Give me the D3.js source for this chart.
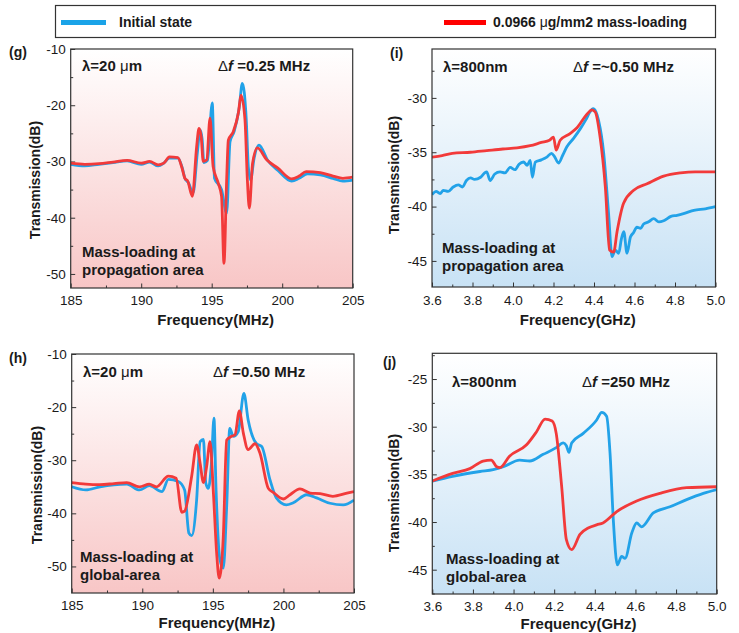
<!DOCTYPE html>
<html>
<head>
<meta charset="utf-8">
<script src="https://cdn.jsdelivr.net/npm/d3@7"></script>
<style>
body { margin: 0; background: #fff; }
svg text { font-family: "Liberation Sans", Arial, sans-serif; fill: #1a1a1a; }
</style>
</head>
<body>
<div id="chart"></div>
<script>
// ---- data ----
// (g) lambda = 20 um, mass-loading at propagation area
const gFreqInit = [185,186,187,188,189,190,190.6,191.2,191.6,192,192.6,192.9,193.1,193.35,193.68,193.98,194.18,194.32,194.45,194.7,195.04,195.2,195.7,196.06,196.3,196.6,196.95,197.17,197.45,197.6,197.76,198,198.35,199,199.7,200.67,201.2,201.8,202.7,203.6,204.3,205];
const gInit     = [-30.5,-30.8,-30.5,-30.2,-29.9,-30.5,-30.1,-30.8,-30.3,-29.4,-29.4,-31,-33,-33.8,-35.6,-28.5,-24.4,-26,-30.2,-29.8,-19.6,-33,-35,-39.2,-26.5,-24.6,-20.5,-16.1,-22.5,-31,-33.3,-29.5,-27.1,-29.9,-31.6,-33.5,-33,-32.2,-32.4,-33,-33.5,-33.3];
const gFreqLoad = [185,186,187,188,189,190,190.6,191.2,191.6,192,192.6,192.9,193.1,193.3,193.63,193.93,194.1,194.25,194.4,194.65,194.88,195.1,195.47,195.7,195.87,196.06,196.18,196.53,196.89,197.08,197.36,197.53,197.67,197.9,198.24,198.9,199.7,200.67,201.2,201.7,202.7,203.6,204.3,205];
const gLoad     = [-30.3,-30.5,-30.4,-30.1,-29.8,-30.3,-30,-30.6,-30.3,-29.2,-29.3,-31.2,-33,-33.5,-36.2,-27.4,-24.1,-25.5,-30,-29.7,-22.3,-30.9,-33.9,-36.2,-48.1,-33.3,-26.2,-24.7,-21.4,-18.2,-22.6,-33.3,-38.3,-30.3,-27.6,-29.7,-31.2,-33.1,-32.6,-31.8,-32,-32.6,-33,-32.8];

// (h) lambda = 20 um, mass-loading at global area
const hFreqInit = [185,186,187,188.9,189.8,190.5,191.4,191.85,192.55,193,193.3,193.5,193.85,194.1,194.33,194.5,194.68,194.9,195.08,195.22,195.5,195.74,195.98,196.2,196.45,196.8,197.2,197.5,198.1,198.46,199.05,199.5,200.2,200.7,201.65,202.35,203.3,204.24,205];
const hInit     = [-35,-35.6,-35,-34.5,-35.6,-34.8,-35.9,-33.6,-34,-35.6,-43.7,-44.2,-37.5,-26.5,-26.1,-34.3,-35.3,-30.6,-22.1,-35,-48.7,-50.3,-38.7,-24,-25.5,-24.6,-17.4,-22.4,-26.9,-27.4,-33.7,-37.1,-38.4,-38,-36.5,-37.1,-38.1,-38.4,-37.5];
const hFreqLoad = [185,186,187,188,188.9,189.8,190.5,191,191.85,192.4,192.8,193,193.5,193.85,194.1,194.33,194.56,194.8,195.04,195.27,195.45,195.74,195.98,196.33,196.57,196.88,197.16,197.5,197.99,198.34,198.93,199.3,200,200.47,201.17,201.9,202.6,203.5,204.5,205];
const hLoad     = [-34.2,-34.5,-34.6,-34.4,-34.2,-35,-34.5,-35,-33,-33.4,-39.8,-39.6,-33,-27.1,-30.6,-34.2,-31.2,-26.5,-36.2,-47.5,-52.2,-44.4,-26.2,-25.5,-25.2,-20.7,-24.9,-28,-26.9,-28.7,-35.3,-36.1,-37.3,-36.5,-35.4,-36.2,-36.3,-36.8,-36.2,-35.9];

// (i) lambda = 800 nm, mass-loading at propagation area
const iFreqInit = [3.6,3.62,3.64,3.656,3.68,3.705,3.73,3.75,3.77,3.79,3.81,3.84,3.86,3.87,3.887,3.91,3.936,3.96,3.986,4.01,4.03,4.052,4.07,4.085,4.096,4.11,4.14,4.167,4.19,4.205,4.225,4.245,4.266,4.3,4.332,4.36,4.38,4.395,4.41,4.423,4.448,4.472,4.489,4.505,4.522,4.535,4.547,4.563,4.58,4.595,4.612,4.63,4.645,4.67,4.695,4.72,4.744,4.78,4.81,4.85,4.893,4.95,5.0];
const iInit     = [-38.9,-38.6,-38.8,-38.5,-38.6,-38.2,-38,-38.2,-37.6,-37.35,-37.5,-37.3,-36.9,-36.8,-37.6,-37,-36.8,-36.9,-36.4,-36.6,-36.1,-35.9,-36.2,-35.75,-37.3,-35.9,-35.7,-35.45,-35.1,-35.4,-36,-35.3,-34.5,-33.7,-32.85,-32,-31.3,-31,-31.3,-32.1,-35.1,-40.65,-44.6,-44,-44.3,-43,-42.3,-44.3,-42.8,-42.4,-41.9,-42,-41.6,-41.4,-41.1,-41.4,-41.3,-40.9,-40.8,-40.6,-40.35,-40.2,-40];
const iFreqLoad = [3.6,3.65,3.7,3.79,3.87,3.95,4.02,4.085,4.14,4.18,4.2,4.213,4.233,4.28,4.316,4.365,4.39,4.406,4.43,4.456,4.477,4.497,4.514,4.546,4.596,4.662,4.744,4.827,4.9,5.0];
const iLoad     = [-35.45,-35.3,-35.1,-35,-34.85,-34.7,-34.6,-34.4,-34.1,-33.9,-33.6,-34.8,-33.9,-33.3,-32.75,-31.5,-31.1,-31.3,-33.6,-38.2,-44,-44.2,-42.3,-39.7,-38.5,-37.9,-37.2,-36.9,-36.8,-36.8];

// (j) lambda = 800 nm, mass-loading at global area
const jFreqInit = [3.6,3.7,3.835,3.9,3.95,4.03,4.08,4.146,4.21,4.245,4.26,4.273,4.286,4.343,4.409,4.434,4.458,4.475,4.491,4.511,4.532,4.549,4.582,4.606,4.63,4.688,4.77,4.852,4.934,5.0];
const jInit     = [-35.7,-35.2,-34.7,-34.5,-34.2,-33.5,-33.6,-32.9,-32.2,-31.7,-32,-32.7,-31.7,-30.7,-29.3,-28.5,-28.9,-32.8,-39.75,-44.5,-43.6,-43.8,-41.15,-40.1,-40.5,-39.05,-38.4,-37.65,-37,-36.6];
const jFreqLoad = [3.6,3.7,3.785,3.85,3.89,3.917,3.933,3.98,4.064,4.114,4.155,4.19,4.21,4.237,4.26,4.286,4.327,4.37,4.409,4.44,4.508,4.606,4.72,4.852,5.0];
const jLoad     = [-35.7,-34.9,-34.4,-33.6,-33.5,-34.2,-34.3,-33.1,-31.9,-30.5,-29.2,-29.4,-30.7,-36.3,-41.85,-42.9,-41.3,-40.6,-40.3,-40.1,-38.9,-37.8,-37,-36.4,-36.3];

// tick labels
const mhzTicks = [185, 190, 195, 200, 205];
const ghzTicks = [3.6, 3.8, 4.0, 4.2, 4.4, 4.6, 4.8, 5.0];
const gTicksY = [-10, -20, -30, -40, -50];
const iTicksY = [-30, -35, -40, -45];
const jTicksY = [-25, -30, -35, -40, -45];

const legendLabels = ["Initial state", "0.0966 μg/mm2 mass-loading"];

const blue = "#22a2e8", red = "#f23a3a";

const svg = d3.select("#chart").append("svg")
  .attr("width", 739).attr("height", 633);

const defs = svg.append("defs");
function grad(id, c) {
  const g = defs.append("linearGradient").attr("id", id)
    .attr("x1", 0).attr("y1", 0).attr("x2", 0).attr("y2", 1);
  g.append("stop").attr("offset", "0%").attr("stop-color", "#ffffff");
  g.append("stop").attr("offset", "100%").attr("stop-color", c);
}
grad("pinkBg", "#f8c6c6");
grad("blueBg", "#c8e2f5");

// legend
const leg = svg.append("g");
leg.append("rect").attr("x", 55.5).attr("y", 5.5).attr("width", 660).attr("height", 32)
  .attr("fill", "#fff").attr("stroke", "#333").attr("stroke-width", 1.2);
leg.append("rect").attr("x", 61).attr("y", 20).attr("width", 45).attr("height", 5).attr("fill", "#1aa3e8");
leg.append("text").attr("x", 119).attr("y", 27).attr("font-size", 14).attr("font-weight", "bold")
  .text(legendLabels[0]);
leg.append("rect").attr("x", 444).attr("y", 20).attr("width", 42).attr("height", 5).attr("fill", "#ff0000");
const lt = leg.append("text").attr("x", 493).attr("y", 27).attr("font-size", 14).attr("font-weight", "bold");
lt.append("tspan").text("0.0966 ");
lt.append("tspan").attr("font-weight", "normal").text("μ");
lt.append("tspan").text("g/mm2 mass-loading");

const panels = [
  { label: "(g)", lx: 9, ly: 57, box: [70.7, 49, 352.7, 288], xDom: [185, 205], yDom: [-52.5, -10],
    xTicks: mhzTicks, xMinor: d3.range(187.5, 205, 5), xFmt: d => d, yTicks: gTicksY, yMinor: d3.range(-15, -52, -10),
    bg: "url(#pinkBg)", xTitle: "Frequency(MHz)", xLabY: 305, xTitleY: 325, yTitleX: 35, yTitleY: 180,
    lam: "λ=20 ", lamUnit: "μ", lamTail: "m", lamX: 82, dfText: " =0.25 MHz", dfX: 218, topY: 71,
    note: ["Mass-loading at", "propagation area"], noteX: 82, noteY: 257,
    init: [gFreqInit, gInit], load: [gFreqLoad, gLoad] },
  { label: "(i)", lx: 390, ly: 58, box: [432, 49, 715.5, 287], xDom: [3.6, 5.0], yDom: [-47.4, -25.5],
    xTicks: ghzTicks, xMinor: d3.range(3.7, 5.0, 0.2), xFmt: d3.format(".1f"), yTicks: iTicksY, yMinor: [-27.5, -32.5, -37.5, -42.5, -47.5].filter(v => v > -47.4),
    bg: "url(#blueBg)", xTitle: "Frequency(GHz)", xLabY: 305, xTitleY: 325, yTitleX: 394, yTitleY: 175,
    lam: "λ=800nm", lamUnit: "", lamTail: "", lamX: 443, dfText: " =~0.50 MHz", dfX: 573, topY: 72,
    note: ["Mass-loading at", "propagation area"], noteX: 442, noteY: 253,
    init: [iFreqInit, iInit], load: [iFreqLoad, iLoad] },
  { label: "(h)", lx: 9, ly: 363, box: [71.7, 354, 354, 593], xDom: [185, 205], yDom: [-55, -10],
    xTicks: mhzTicks, xMinor: d3.range(187.5, 205, 5), xFmt: d => d, yTicks: gTicksY, yMinor: d3.range(-15, -55, -10),
    bg: "url(#pinkBg)", xTitle: "Frequency(MHz)", xLabY: 610, xTitleY: 628, yTitleX: 37, yTitleY: 485,
    lam: "λ=20 ", lamUnit: "μ", lamTail: "m", lamX: 83, dfText: " =0.50 MHz", dfX: 213, topY: 377,
    note: ["Mass-loading at", "global-area"], noteX: 80, noteY: 562,
    init: [hFreqInit, hInit], load: [hFreqLoad, hLoad] },
  { label: "(j)", lx: 383, ly: 367, box: [432.3, 353.3, 716.7, 594], xDom: [3.6, 5.0], yDom: [-47.55, -22.3],
    xTicks: ghzTicks, xMinor: d3.range(3.7, 5.0, 0.2), xFmt: d3.format(".1f"), yTicks: jTicksY, yMinor: [-22.5, -27.5, -32.5, -37.5, -42.5, -47.5],
    bg: "url(#blueBg)", xTitle: "Frequency(GHz)", xLabY: 611, xTitleY: 629, yTitleX: 394, yTitleY: 493,
    lam: "λ=800nm", lamUnit: "", lamTail: "", lamX: 452, dfText: " =250 MHz", dfX: 582, topY: 387,
    note: ["Mass-loading at", "global-area"], noteX: 446, noteY: 564,
    init: [jFreqInit, jInit], load: [jFreqLoad, jLoad] }
];

panels.forEach(p => {
  const [x0, y0, x1, y1] = p.box;
  const x = d3.scaleLinear().domain(p.xDom).range([x0, x1]);
  const y = d3.scaleLinear().domain(p.yDom).range([y1, y0]);
  const g = svg.append("g");

  g.append("rect").attr("x", x0).attr("y", y0).attr("width", x1 - x0).attr("height", y1 - y0)
    .attr("fill", p.bg);

  // axes with inward ticks
  const ax = g.append("g").attr("transform", `translate(0,${y1})`)
    .call(d3.axisBottom(x).tickValues(p.xTicks).tickFormat(p.xFmt).tickSize(-4.5).tickSizeOuter(0).tickPadding(p.xLabY - y1 - 10));
  g.append("g").attr("transform", `translate(0,${y1})`)
    .call(d3.axisBottom(x).tickValues(p.xMinor).tickFormat("").tickSize(-2.5).tickSizeOuter(0))
    .select(".domain").remove();
  const ay = g.append("g").attr("transform", `translate(${x0},0)`)
    .call(d3.axisLeft(y).tickValues(p.yTicks).tickFormat(d => String(d)).tickSize(-4.5).tickSizeOuter(0).tickPadding(5));
  g.append("g").attr("transform", `translate(${x0},0)`)
    .call(d3.axisLeft(y).tickValues(p.yMinor).tickFormat("").tickSize(-2.5).tickSizeOuter(0))
    .select(".domain").remove();
  [ax, ay].forEach(a => {
    a.selectAll("text").attr("font-size", 13.5).attr("fill", "#222")
      .style("font-family", '"Liberation Sans", Arial, sans-serif');
    a.select(".domain").remove();
  });
  svg.selectAll(".tick line").attr("stroke", "#333");

  // series
  const line = d3.line().x(d => x(d[0])).y(d => y(d[1])).curve(d3.curveMonotoneX);
  const clipId = "clip" + p.label.replace(/[()]/g, "");
  defs.append("clipPath").attr("id", clipId).append("rect")
    .attr("x", x0).attr("y", y0).attr("width", x1 - x0).attr("height", y1 - y0);
  const series = [[p.init, blue], [p.load, red]];
  series.forEach(([s, c]) => {
    const pts = s[0].map((f, k) => [f, s[1][k]]);
    g.append("path").datum(pts).attr("d", line).attr("fill", "none")
      .attr("stroke", c).attr("stroke-width", 2.8).attr("stroke-linejoin", "round")
      .attr("clip-path", `url(#${clipId})`);
  });

  // frame
  g.append("rect").attr("x", x0).attr("y", y0).attr("width", x1 - x0).attr("height", y1 - y0)
    .attr("fill", "none").attr("stroke", "#333").attr("stroke-width", 1.2);

  // titles
  g.append("text").attr("x", (x0 + x1) / 2 + 4).attr("y", p.xTitleY).attr("text-anchor", "middle")
    .attr("font-size", 15).attr("font-weight", "bold").text(p.xTitle);
  g.append("text").attr("transform", `translate(${p.yTitleX + 5},${p.yTitleY}) rotate(-90)`)
    .attr("text-anchor", "middle").attr("font-size", 14).attr("font-weight", "bold").text("Transmission(dB)");

  g.append("text").attr("x", p.lx).attr("y", p.ly).attr("font-size", 14).attr("font-weight", "bold").text(p.label);

  // annotations
  const lt = g.append("text").attr("x", p.lamX).attr("y", p.topY).attr("font-size", 15).attr("font-weight", "bold");
  lt.append("tspan").text(p.lam);
  if (p.lamUnit) {
    lt.append("tspan").attr("font-weight", "normal").text(p.lamUnit);
    lt.append("tspan").text(p.lamTail);
  }
  const dt = g.append("text").attr("x", p.dfX).attr("y", p.topY).attr("font-size", 15).attr("font-weight", "bold");
  dt.append("tspan").attr("font-weight", "normal").text("Δ");
  dt.append("tspan").attr("font-style", "italic").text("f");
  dt.append("tspan").text(p.dfText);

  p.note.forEach((t, k) => {
    g.append("text").attr("x", p.noteX).attr("y", p.noteY + k * 18).attr("font-size", 15)
      .attr("font-weight", "bold").text(t);
  });
});
</script>
</body>
</html>
